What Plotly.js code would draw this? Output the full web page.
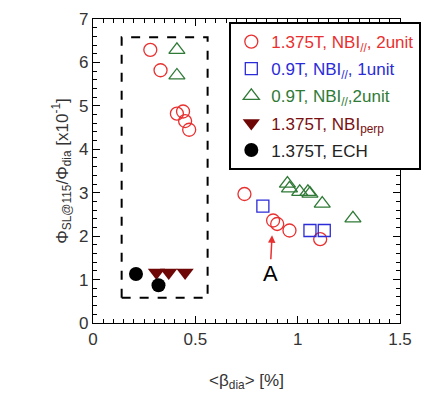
<!DOCTYPE html>
<html>
<head>
<meta charset="utf-8">
<script src="https://cdn.plot.ly/plotly-3.0.1.min.js"></script>
<style>html,body{margin:0;padding:0;background:#fff;}#chart{width:434px;height:400px;}</style>
</head>
<body>
<div id="chart"></div>
<script>
// Series: 1.375T, NBI//, 2unit
var redX = [0.28, 0.33, 0.41, 0.44, 0.45, 0.47, 0.74, 0.88, 0.90, 0.96, 1.11];
var redY = [6.29, 5.82, 4.82, 4.87, 4.65, 4.45, 2.97, 2.36, 2.28, 2.13, 1.93];
// Series: 0.9T, NBI//, 1unit
var blueX = [0.83, 1.06, 1.13];
var blueY = [2.69, 2.13, 2.13];
// Series: 0.9T, NBI//, 2unit
var greenX = [0.41, 0.41, 0.95, 0.96, 1.01, 1.05, 1.06, 1.12, 1.27];
var greenY = [6.29, 5.70, 3.21, 3.10, 3.02, 3.02, 2.98, 2.75, 2.41];
// Series: 1.375T, NBIperp
var perpX = [0.31, 0.37, 0.45];
var perpY = [1.16, 1.16, 1.16];
// Series: 1.375T, ECH
var echX = [0.21, 0.32];
var echY = [1.13, 0.87];

var seriesNames = [
  '<span style="color:#e8302f">1.375T, NBI<sub>//</sub>, 2unit</span>',
  '<span style="color:#2b2bd8">0.9T, NBI<sub>//</sub>, 1unit</span>',
  '<span style="color:#2f7a36">0.9T, NBI<sub>//</sub>,2unit</span>',
  '<span style="color:#7a1010">1.375T, NBI<sub>perp</sub></span>',
  '<span style="color:#222">1.375T, ECH</span>'
];

var traces = [
  {x: redX, y: redY, name: seriesNames[0], legendgroup: 'a', mode: 'markers', type: 'scatter',
   marker: {symbol: 'circle-open', size: 13, color: '#e8302f', line: {width: 1.3}}},
  {x: blueX, y: blueY, name: seriesNames[1], legendgroup: 'b', mode: 'markers', type: 'scatter',
   marker: {symbol: 'square-open', size: 12, color: '#2b2bd8', line: {width: 1.3}}},
  {x: greenX, y: greenY, name: seriesNames[2], legendgroup: 'c', mode: 'markers', type: 'scatter',
   marker: {symbol: 'triangle-up-open', size: 14, color: '#2f7a36', line: {width: 1.3}}},
  {x: perpX, y: perpY, name: seriesNames[3], legendgroup: 'd', mode: 'markers', type: 'scatter',
   marker: {symbol: 'triangle-down', size: 15, color: '#6e0606'}},
  {x: echX, y: echY, name: seriesNames[4], legendgroup: 'e', mode: 'markers', type: 'scatter',
   marker: {symbol: 'circle', size: 14, color: '#000'}}
];

var axisFont = {family: 'Liberation Sans, Arial, sans-serif', size: 17, color: '#333'};

var layout = {
  width: 434, height: 400,
  margin: {l: 93, r: 34, t: 19, b: 77},
  paper_bgcolor: '#fff', plot_bgcolor: '#fff',
  font: {family: 'Liberation Sans, Arial, sans-serif', color: '#333'},
  showlegend: true,
  legend: {
    x: 0.444, y: 0.99, xanchor: 'left', yanchor: 'top',
    bgcolor: '#fff', bordercolor: '#000', borderwidth: 2,
    font: {family: 'Liberation Sans, Arial, sans-serif', size: 17},
    traceorder: 'grouped', tracegroupgap: 2
  },
  xaxis: {
    range: [0, 1.5], tick0: 0, dtick: 0.5,
    ticks: 'inside', ticklen: 7, tickcolor: '#000', tickwidth: 1,
    minor: {dtick: 0.05, ticks: 'inside', ticklen: 4, tickcolor: '#000'},
    showline: true, linecolor: '#000', linewidth: 1.2, mirror: 'allticks',
    showgrid: false, zeroline: false,
    tickfont: axisFont,
    title: {text: '&lt;β<sub>dia</sub>&gt; [%]', font: axisFont, standoff: 26}
  },
  yaxis: {
    range: [0, 7], tick0: 0, dtick: 1,
    ticks: 'inside', ticklen: 7, tickcolor: '#000', tickwidth: 1,
    minor: {dtick: 0.2, ticks: 'inside', ticklen: 4, tickcolor: '#000'},
    showline: true, linecolor: '#000', linewidth: 1.2, mirror: 'allticks',
    showgrid: false, zeroline: false,
    tickfont: axisFont,
    title: {text: 'Φ<sub>SL@115</sub>/Φ<sub>dia</sub> [x10<sup>-1</sup>]', font: axisFont, standoff: 6}
  },
  shapes: [
    {type: 'rect', xref: 'x', yref: 'y', x0: 0.14, x1: 0.56, y0: 0.58, y1: 6.58,
     line: {color: '#000', width: 2, dash: 'dash'}, fillcolor: 'rgba(0,0,0,0)', layer: 'above'}
  ],
  annotations: [
    {x: 0.875, y: 2.02, xref: 'x', yref: 'y', text: 'A', showarrow: true,
     ax: -2, ay: 38, axref: 'pixel', ayref: 'pixel',
     arrowhead: 2, arrowsize: 1, arrowwidth: 1.5, arrowcolor: '#e8302f',
     font: {family: 'Liberation Sans, Arial, sans-serif', size: 22, color: '#000'}}
  ]
};

Plotly.newPlot('chart', traces, layout, {displayModeBar: false, staticPlot: true});
</script>
</body>
</html>
